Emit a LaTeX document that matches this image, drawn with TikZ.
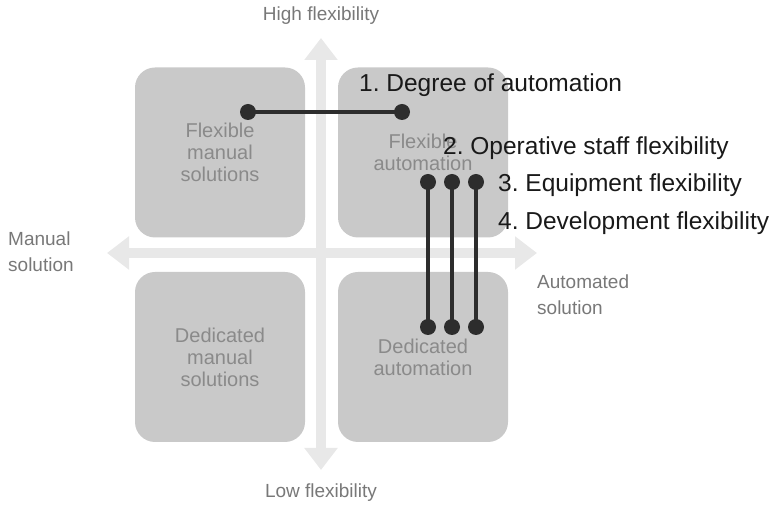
\documentclass[tikz,border=0pt]{standalone}
\usepackage{fontspec}
\setmainfont{Liberation Sans}
\usepackage{tikz}
\usetikzlibrary{arrows.meta}
\frenchspacing

\definecolor{quadfill}{RGB}{201,201,201}
\definecolor{quadtext}{RGB}{138,138,138}
\definecolor{axisgray}{RGB}{232,232,232}
\definecolor{axistext}{RGB}{120,120,120}
\definecolor{dotgray}{RGB}{45,45,45}

\begin{document}
\begin{tikzpicture} [x=1pt, y=-1pt,
	quad/.style={rectangle, rounded corners=20pt, fill=quadfill, text=quadtext, minimum width=170pt, minimum height=170pt, align=center, inner sep=0pt, font=\fontsize{20}{22}\selectfont},
	axis/.style={line width=10pt, draw=axisgray, {Triangle[length=22pt,width=32pt]}-{Triangle[length=22pt,width=32pt]}},
	dot/.style={circle, fill=dotgray, minimum size=16pt, inner sep=0pt},
	bar/.style={line width=4.5pt, draw=dotgray},
	axlabel/.style={text=axistext, inner sep=0pt, align=left, font=\fontsize{19}{26}\selectfont},
	factor/.style={anchor=base west, inner sep=0pt, text=black!90, font=\fontsize{24.5}{28}\selectfont}]
	\useasboundingbox (0,0) rectangle (772,510);
	\coordinate (up) at (321,38);
	\coordinate (down) at (321,470);
	\coordinate (left) at (107,253);
	\coordinate (right) at (537,253);
	\draw [axis] (down) -- (up);
	\draw [axis] (left) -- (right);
	\node [axlabel, anchor=base] (high) at (321,21) {High flexibility};
	\node [axlabel, anchor=base] (low) at (321,498) {Low flexibility};
	\node [axlabel, anchor=west] (manual) at (8,252) {Manual\\solution};
	\node [axlabel, anchor=west] (automated) at (537,294.5) {Automated\\solution};
	\node [quad] (flexman) at (220,152.5) {Flexible\\manual\\solutions};
	\node [quad] (flexauto) at (423,152.5) {Flexible\\automation};
	\node [quad] (dedman) at (220,357) {Dedicated\\manual\\solutions};
	\node [quad] (dedauto) at (423,357) {Dedicated\\automation};
	\node [dot] (a1) at (248,112) {};
	\node [dot] (a2) at (402,112) {};
	\node [dot] (b1) at (428,182) {};
	\node [dot] (b2) at (428,327) {};
	\node [dot] (c1) at (452,182) {};
	\node [dot] (c2) at (452,327) {};
	\node [dot] (e1) at (476,182) {};
	\node [dot] (e2) at (476,327) {};
	\draw [bar] (a1.center) -- (a2.center);
	\draw [bar] (b1.center) -- (b2.center);
	\draw [bar] (c1.center) -- (c2.center);
	\draw [bar] (e1.center) -- (e2.center);
	\node [factor] (degree) at (359,92) {1. Degree of automation};
	\node [factor] (staff) at (443,155) {2. Operative staff flexibility};
	\node [factor] (equip) at (498,192) {3. Equipment flexibility};
	\node [factor] (devel) at (498,230) {4. Development flexibility};
\end{tikzpicture}
\end{document}
